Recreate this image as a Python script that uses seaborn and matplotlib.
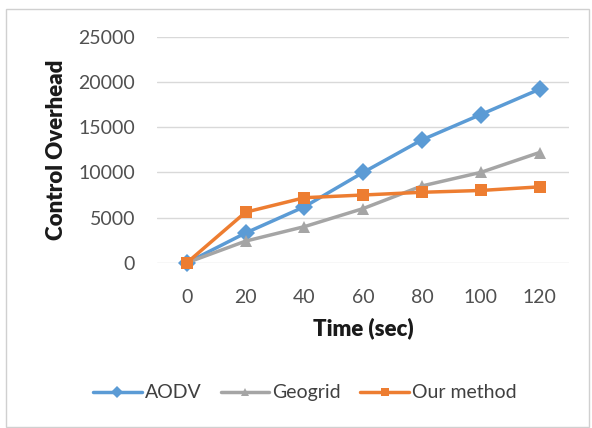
import matplotlib
matplotlib.use("Agg")
import matplotlib.pyplot as plt
import seaborn as sns
import pandas as pd
from matplotlib.patches import Rectangle
from matplotlib.lines import Line2D

time_sec = [0, 20, 40, 60, 80, 100, 120]
aodv = [0, 3300, 6200, 10000, 13600, 16400, 19200]
geogrid = [0, 2400, 4000, 6000, 8500, 10000, 12200]
our_method = [0, 5600, 7200, 7500, 7800, 8000, 8400]
series_names = ["AODV", "Geogrid", "Our method"]
y_ticks = [0, 5000, 10000, 15000, 20000, 25000]

df = pd.DataFrame({
    "Time (sec)": time_sec * 3,
    "Control Overhead": aodv + geogrid + our_method,
    "Series": [series_names[0]] * 7 + [series_names[1]] * 7 + [series_names[2]] * 7,
})

sns.set_theme(style="white")
plt.rcParams["font.family"] = ["Lato", "DejaVu Sans"]

fig = plt.figure(figsize=(5.92, 4.28), dpi=100)
ax = fig.add_axes([0.266, 0.386, 0.695, 0.528])

palette = {"AODV": "#5B9BD5", "Geogrid": "#A5A5A5", "Our method": "#ED7D31"}
markers = {"AODV": "D", "Geogrid": "^", "Our method": "s"}

sns.lineplot(data=df, x="Time (sec)", y="Control Overhead", hue="Series",
             style="Series", markers=markers, dashes=False, palette=palette,
             linewidth=2.5, markersize=9, markeredgewidth=0, ax=ax, clip_on=False,
             legend=False)

ax.set_xlim(-10, 130)
ax.set_ylim(0, 25000)
ax.set_xticks(time_sec)
ax.set_yticks(y_ticks)
ax.yaxis.grid(True, color="#D9D9D9", linewidth=1)
for s in ax.spines.values():
    s.set_visible(False)
ax.tick_params(axis="both", length=0, labelsize=14, colors="#505050")
ax.tick_params(axis="y", pad=16)
ax.tick_params(axis="x", pad=19)
ax.set_xlabel("Time (sec)", fontsize=16, fontweight="heavy", color="#1a1a1a", labelpad=8)
ax.set_ylabel("Control Overhead", fontsize=16, fontweight="heavy", color="#1a1a1a", labelpad=8)

handles = [Line2D([0], [0], color=palette[n], marker=markers[n], linewidth=2.5,
                  markersize=6, markeredgewidth=0) for n in series_names]
fig.legend(handles, series_names, loc="center", bbox_to_anchor=(0.515, 0.082),
           ncol=3, frameon=False, fontsize=14, handlelength=2.5, handletextpad=0.15,
           columnspacing=1.0, labelcolor="#404040")

fig.patches.append(Rectangle((0.01, 0.003), 0.985, 0.975, transform=fig.transFigure,
                             fill=False, edgecolor="#D0D0D0", linewidth=1))

fig.savefig("out.png", dpi=100)
